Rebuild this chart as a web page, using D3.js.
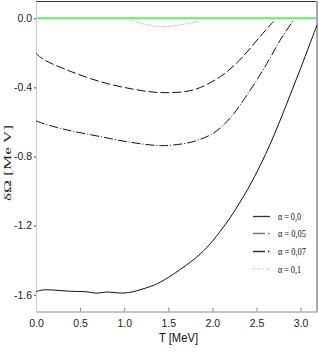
<!DOCTYPE html>
<html><head><meta charset="utf-8">
<script src="https://cdn.jsdelivr.net/npm/d3@7"></script>
<style>html,body{margin:0;padding:0;background:#fff;}svg{display:block;}</style>
</head><body>
<script>
// Data
const T0 = [0, 0.08, 0.2, 0.35, 0.57, 0.69, 0.8, 0.92, 1.0, 1.1, 1.18, 1.3, 1.41, 1.63, 1.86, 2.0, 2.1, 2.2, 2.3, 2.4, 2.5, 2.6, 2.7, 2.8, 2.9, 3.0, 3.1, 3.186];
const V0 = [-1.582, -1.572, -1.573, -1.579, -1.583, -1.591, -1.584, -1.589, -1.59, -1.583, -1.571, -1.552, -1.527, -1.456, -1.365, -1.29, -1.225, -1.155, -1.075, -0.99, -0.895, -0.79, -0.675, -0.55, -0.42, -0.29, -0.155, -0.04];
const T05 = [0, 0.1, 0.35, 0.73, 1.1, 1.41, 1.56, 1.78, 2.01, 2.2, 2.43, 2.62, 2.77, 2.92];
const V05 = [-0.594, -0.612, -0.646, -0.685, -0.72, -0.737, -0.733, -0.714, -0.665, -0.578, -0.415, -0.26, -0.125, -0.01];
const T07 = [0, 0.083, 0.35, 0.73, 1.1, 1.41, 1.78, 2.09, 2.31, 2.54, 2.69];
const V07 = [-0.2025, -0.237, -0.299, -0.367, -0.41, -0.43, -0.415, -0.338, -0.241, -0.106, -0.02];
const T10 = [1.05, 1.2, 1.41, 1.63, 1.86];
const V10 = [-0.01, -0.03, -0.049, -0.039, -0.014];
const xTicks = [0, 0.5, 1.0, 1.5, 2.0, 2.5, 3.0];
const xTickLabels = ["0.0", "0.5", "1.0", "1.5", "2.0", "2.5", "3.0"];
const yTicks = [0, -0.4, -0.8, -1.2, -1.6];
const yTickLabels = ["0.0", "-0.4", "-0.8", "-1.2", "-1.6"];
const legendLabels = ["α = 0,0", "α = 0,05", "α = 0,07", "α = 0,1"];

const W = 319, H = 360;
const L = 36, R = 317, TOP = 1, B = 311.5;
const svg = d3.select("body").append("svg").attr("width", W).attr("height", H);
const x = d3.scaleLinear().domain([0, 3.186]).range([L, R]);
const y = d3.scaleLinear().domain([-1.697, 0.1]).range([B, TOP]);

const sans = "'Liberation Sans Narrow', 'Arial Narrow', 'Liberation Sans', sans-serif";
const serif = "'Liberation Serif', 'Times New Roman', serif";

// Frame
svg.append("line").attr("x1", L).attr("x2", R).attr("y1", TOP + 0.5).attr("y2", TOP + 0.5).attr("stroke", "#333").attr("stroke-width", 1);
svg.append("line").attr("x1", R).attr("x2", R).attr("y1", TOP).attr("y2", B).attr("stroke", "#aaa").attr("stroke-width", 2);

// Axes
const xAxis = d3.axisBottom(x).tickValues(xTicks).tickFormat((d, i) => xTickLabels[i]).tickSizeInner(-4).tickSizeOuter(0).tickPadding(8);
const gx = svg.append("g").attr("transform", `translate(0,${B})`).call(xAxis);
gx.select(".domain").attr("stroke", "#888");
gx.selectAll(".tick line").attr("stroke", "#888");
gx.selectAll("text").attr("font-family", sans).attr("font-size", "10.5px").attr("fill", "#222");

const yAxis = d3.axisLeft(y).tickValues(yTicks).tickFormat((d, i) => yTickLabels[i]).tickSizeInner(2).tickSizeOuter(0).tickPadding(2);
const gy = svg.append("g").attr("transform", `translate(${L},0)`).call(yAxis);
gy.select(".domain").attr("stroke", "#ccc");
gy.selectAll(".tick line").attr("stroke", "#444");
gy.selectAll("text").attr("font-family", sans).attr("font-size", "10.5px").attr("fill", "#222");

// Axis labels
svg.append("text").attr("x", 178.5).attr("y", 342).attr("text-anchor", "middle")
  .attr("font-family", sans).attr("font-size", "12.5px").attr("fill", "#111")
  .attr("textLength", 39).attr("lengthAdjust", "spacingAndGlyphs").text("T [MeV]");
svg.append("text").attr("transform", "translate(11,163) rotate(-90)").attr("text-anchor", "middle")
  .attr("font-family", serif).attr("font-size", "11px").attr("fill", "#222")
  .attr("textLength", 76).attr("lengthAdjust", "spacingAndGlyphs").text("δΩ [Me V]");

// Curves
const line = d3.line().x(d => x(d[0])).y(d => y(d[1])).curve(d3.curveCatmullRom.alpha(0.5));
const series = [
  {t: T0, v: V0, dash: null, color: "#111", w: 1},
  {t: T05, v: V05, dash: "9,2,1,2", color: "#111", w: 1},
  {t: T07, v: V07, dash: "9,3", color: "#111", w: 1},
  {t: T10, v: V10, dash: "1,1.5", color: "#999", w: 1}
];
series.forEach(s => {
  const p = svg.append("path").datum(s.t.map((t, i) => [t, s.v[i]]))
    .attr("d", line).attr("fill", "none").attr("stroke", s.color).attr("stroke-width", s.w);
  if (s.dash) p.attr("stroke-dasharray", s.dash);
});

// Zero line
svg.append("line").attr("x1", x(0) + 1).attr("x2", R - 1).attr("y1", y(0)).attr("y2", y(0))
  .attr("stroke", "#66ee66").attr("stroke-width", 2);

// Legend
const legY = [216.5, 233.5, 251.5, 269];
const legDash = [null, "12,3,1.5,10", "12,3,1.5,10", "1,1.5"];
const legColor = ["#333", "#777", "#333", "#aaa"];
legendLabels.forEach((lab, i) => {
  const ln = svg.append("line").attr("x1", 253).attr("x2", 270).attr("y1", legY[i]).attr("y2", legY[i])
    .attr("stroke", legColor[i]).attr("stroke-width", i === 3 ? 1 : 1.3);
  if (legDash[i]) ln.attr("stroke-dasharray", legDash[i]);
  svg.append("text").attr("x", 278).attr("y", legY[i] + 3.5)
    .attr("font-family", serif).attr("font-size", "11px").attr("fill", "#111")
    .attr("textLength", i === 0 || i === 3 ? 23 : 28).attr("lengthAdjust", "spacingAndGlyphs").text(lab);
});
</script>
</body></html>
